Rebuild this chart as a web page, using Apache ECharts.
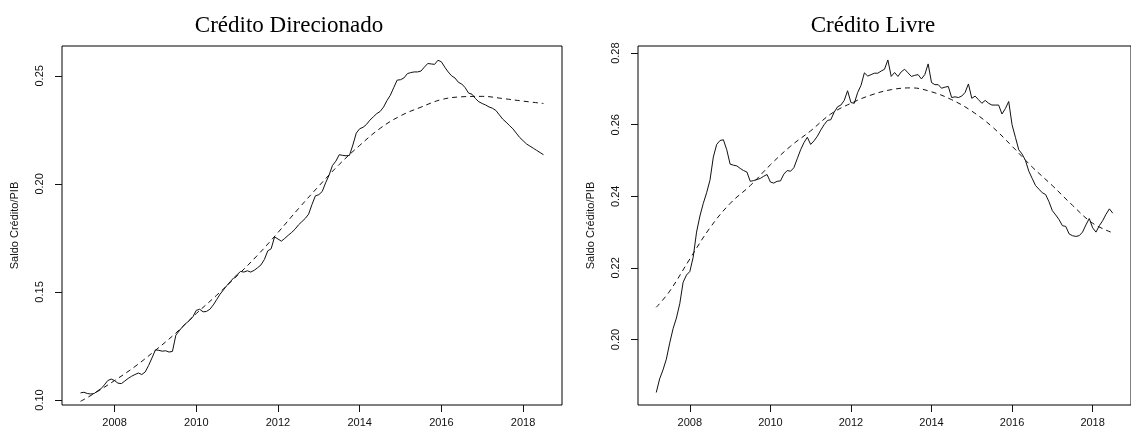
<!DOCTYPE html>
<html>
<head>
<meta charset="utf-8">
<script src="https://cdn.jsdelivr.net/npm/echarts@6/dist/echarts.min.js"></script>
<style>
  html, body { margin: 0; padding: 0; background: #fff; }
  #chart { width: 1131px; height: 432px; }
</style>
</head>
<body>
<div id="chart"></div>
<script>
// Monthly series, March 2007 to July 2018 (share of GDP)
const firstYear = 2007;
const firstMonth = 3;

const direcionado = [
  0.1033, 0.1036, 0.1030, 0.1028, 0.1030, 0.1042, 0.1052, 0.1070, 0.1090, 0.1097,
  0.1090, 0.1078, 0.1076, 0.1088, 0.1100, 0.1110, 0.1118, 0.1125, 0.1118, 0.1130, 0.1160, 0.1195,
  0.1232, 0.1230, 0.1226, 0.1228, 0.1222, 0.1225, 0.1300, 0.1320, 0.1340, 0.1355, 0.1368, 0.1385,
  0.1415, 0.1420, 0.1408, 0.1410, 0.1420, 0.1440, 0.1465, 0.1490, 0.1510, 0.1530, 0.1548, 0.1565,
  0.1580, 0.1595, 0.1592, 0.1598, 0.1592, 0.1600, 0.1612, 0.1625, 0.1650, 0.1690, 0.1700, 0.1755,
  0.1745, 0.1735, 0.1748, 0.1762, 0.1775, 0.1790, 0.1810, 0.1825, 0.1840, 0.1860, 0.1905, 0.1945,
  0.1950, 0.1965, 0.2005, 0.2040, 0.2085, 0.2105, 0.2135, 0.2132, 0.2130, 0.2132, 0.2180, 0.2235,
  0.2255, 0.2262, 0.2275, 0.2295, 0.2310, 0.2325, 0.2335, 0.2355, 0.2385, 0.2410, 0.2445, 0.2480,
  0.2482, 0.2490, 0.2510, 0.2515, 0.2518, 0.2518, 0.2522, 0.2540, 0.2557, 0.2555, 0.2553, 0.2572,
  0.2565, 0.2540, 0.2518, 0.2500, 0.2490, 0.2470, 0.2462, 0.2445, 0.2420, 0.2415, 0.2395, 0.2380,
  0.2372, 0.2365, 0.2356, 0.2350, 0.2340, 0.2320, 0.2300, 0.2286, 0.2270, 0.2255, 0.2235, 0.2215,
  0.2200, 0.2185, 0.2175, 0.2165, 0.2155, 0.2145, 0.2135
];

const livre = [
  0.1852, 0.1890, 0.1915, 0.1945, 0.1990, 0.2030, 0.2060, 0.2100, 0.2160, 0.2180,
  0.2190, 0.2230, 0.2300, 0.2345, 0.2380, 0.2410, 0.2445, 0.2510, 0.2545, 0.2556, 0.2558, 0.2530,
  0.2490, 0.2487, 0.2485, 0.2478, 0.2472, 0.2468, 0.2442, 0.2444, 0.2447, 0.2450, 0.2456, 0.2461,
  0.2440, 0.2437, 0.2442, 0.2443, 0.2462, 0.2472, 0.2470, 0.2480, 0.2505, 0.2530, 0.2550, 0.2565,
  0.2545, 0.2555, 0.2568, 0.2585, 0.2600, 0.2612, 0.2614, 0.2635, 0.2650, 0.2655, 0.2668, 0.2695,
  0.2662, 0.2660, 0.2690, 0.2710, 0.2745, 0.2736, 0.2740, 0.2744, 0.2744, 0.2750, 0.2755, 0.2781,
  0.2735, 0.2746, 0.2735, 0.2748, 0.2755, 0.2745, 0.2735, 0.2738, 0.2740, 0.2728, 0.2740, 0.2770,
  0.2718, 0.2712, 0.2712, 0.2702, 0.2705, 0.2707, 0.2676, 0.2678, 0.2676, 0.2680, 0.2690, 0.2714,
  0.2674, 0.2680, 0.2670, 0.2660, 0.2668, 0.2660, 0.2655, 0.2655, 0.2655, 0.2630, 0.2645, 0.2665,
  0.2600, 0.2565, 0.2530, 0.2518, 0.2500, 0.2470, 0.2450, 0.2430, 0.2420, 0.2410, 0.2405, 0.2385,
  0.2360, 0.2348, 0.2335, 0.2318, 0.2316, 0.2295, 0.2290, 0.2288, 0.2290, 0.2300, 0.2320, 0.2338,
  0.2312, 0.2300, 0.2318, 0.2332, 0.2350, 0.2365, 0.2353
];

// Trend lines (dashed), sampled every half year
const trendDates = [
  2007.167, 2007.5, 2008.0, 2008.5, 2009.0, 2009.5, 2010.0, 2010.5, 2011.0, 2011.5, 2012.0, 2012.5,
  2013.0, 2013.5, 2014.0, 2014.5, 2015.0, 2015.5, 2016.0, 2016.5, 2017.0, 2017.5, 2018.0, 2018.5
];
const direcionadoTrend = [
  0.0994, 0.1030, 0.1090, 0.1155, 0.1230, 0.1310, 0.1400, 0.1485, 0.1575, 0.1670, 0.1775, 0.1885,
  0.1990, 0.2090, 0.2178, 0.2257, 0.2315, 0.2355, 0.2390, 0.2403, 0.2405, 0.2395, 0.2383, 0.2372
];
const livreTrend = [
  0.2090, 0.2135, 0.2225, 0.2312, 0.2380, 0.2430, 0.2488, 0.2540, 0.2583, 0.2630, 0.2660, 0.2683,
  0.2698, 0.2703, 0.2692, 0.2670, 0.2638, 0.2595, 0.2540, 0.2482, 0.2430, 0.2375, 0.2325, 0.2298
];

const yearTicks = [2008, 2010, 2012, 2014, 2016, 2018];
const ticksDirecionado = [0.10, 0.15, 0.20, 0.25];
const ticksLivre = [0.20, 0.22, 0.24, 0.26, 0.28];

const titles = ['Crédito Direcionado', 'Crédito Livre'];
const yName = 'Saldo Crédito/PIB';

function monthly(values) {
  return values.map((v, i) => [firstYear + (firstMonth - 1 + i) / 12, v]);
}
function paired(dates, values) {
  return values.map((v, i) => [dates[i], v]);
}

const ink = '#111';
const labelFont = 'Liberation Sans, Arial, sans-serif';

function xAxisFor(gridIndex) {
  return {
    type: 'value', gridIndex,
    min: 2006.713, max: 2018.953,
    axisLine: { show: false },
    splitLine: { show: false },
    axisTick: { show: true, customValues: yearTicks, length: 7, lineStyle: { color: ink, width: 1 } },
    axisLabel: {
      customValues: yearTicks, color: ink, fontSize: 11, margin: 12, fontFamily: labelFont,
      formatter: v => String(Math.round(v))
    }
  };
}
function yAxisFor(gridIndex, min, max, ticks) {
  return {
    type: 'value', gridIndex, min, max,
    axisLine: { show: false },
    splitLine: { show: false },
    axisTick: { show: true, customValues: ticks, length: 7, lineStyle: { color: ink, width: 1 } },
    axisLabel: {
      customValues: ticks, rotate: 90, margin: 17, color: ink, fontSize: 11, fontFamily: labelFont,
      formatter: v => v.toFixed(2)
    },
    name: yName, nameLocation: 'middle', nameRotate: 90, nameGap: 42,
    nameTextStyle: { color: ink, fontSize: 11, fontFamily: labelFont }
  };
}
function lineSeries(idx, data, dashed) {
  return {
    type: 'line', xAxisIndex: idx, yAxisIndex: idx, data,
    showSymbol: false, smooth: dashed ? 0.4 : false,
    lineStyle: { color: ink, width: 1, type: dashed ? [5, 4] : 'solid' },
    silent: true
  };
}

const titleStyle = { fontFamily: 'Liberation Serif, serif', fontWeight: 'normal', fontSize: 23, color: '#000' };

const chart = echarts.init(document.getElementById('chart'), null, { renderer: 'canvas' });
chart.setOption({
  backgroundColor: '#fff',
  animation: false,
  title: [
    { text: titles[0], left: 284, top: 9, textAlign: 'center', textStyle: titleStyle },
    { text: titles[1], left: 868, top: 9, textAlign: 'center', textStyle: titleStyle }
  ],
  grid: [
    { left: 62, top: 46, width: 500, height: 359, show: true, borderColor: '#000', borderWidth: 1, backgroundColor: 'transparent' },
    { left: 638, top: 46, width: 500, height: 359, show: true, borderColor: '#000', borderWidth: 1, backgroundColor: 'transparent' }
  ],
  xAxis: [xAxisFor(0), xAxisFor(1)],
  yAxis: [
    yAxisFor(0, 0.0977, 0.2638, ticksDirecionado),
    yAxisFor(1, 0.1817, 0.2820, ticksLivre)
  ],
  series: [
    lineSeries(0, monthly(direcionado), false),
    lineSeries(0, paired(trendDates, direcionadoTrend), true),
    lineSeries(1, monthly(livre), false),
    lineSeries(1, paired(trendDates, livreTrend), true)
  ]
});
</script>
</body>
</html>
